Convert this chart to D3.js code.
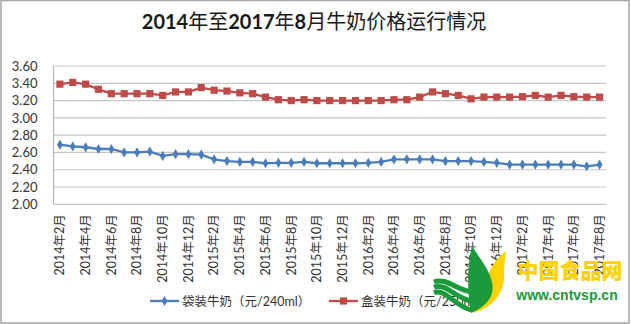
<!DOCTYPE html>
<html><head><meta charset="utf-8">
<script src="https://cdn.jsdelivr.net/npm/d3@7"></script>
<style>
html,body{margin:0;padding:0;background:#fff;}
svg{display:block;}
</style>
</head><body>
<svg id="c" width="631" height="324"></svg>
<script>
const months = [
 "2014年2月","2014年3月","2014年4月","2014年5月","2014年6月","2014年7月","2014年8月","2014年9月","2014年10月","2014年11月","2014年12月",
 "2015年1月","2015年2月","2015年3月","2015年4月","2015年5月","2015年6月","2015年7月","2015年8月","2015年9月","2015年10月","2015年11月","2015年12月",
 "2016年1月","2016年2月","2016年3月","2016年4月","2016年5月","2016年6月","2016年7月","2016年8月","2016年9月","2016年10月","2016年11月","2016年12月",
 "2017年1月","2017年2月","2017年3月","2017年4月","2017年5月","2017年6月","2017年7月","2017年8月"];
const bagged = [2.69,2.67,2.66,2.64,2.64,2.60,2.60,2.61,2.56,2.58,2.58,2.575,2.52,2.50,2.49,2.49,2.475,2.48,2.48,2.49,2.475,
 2.475,2.475,2.475,2.48,2.49,2.52,2.52,2.52,2.52,2.50,2.50,2.50,2.49,2.48,2.46,2.46,2.46,2.46,2.46,2.46,2.44,2.46];
const boxed = [3.39,3.41,3.39,3.33,3.28,3.28,3.28,3.28,3.26,3.30,3.30,3.35,3.32,3.31,3.29,3.28,3.24,3.21,3.20,3.21,3.20,
 3.20,3.20,3.20,3.20,3.20,3.21,3.21,3.24,3.30,3.28,3.26,3.22,3.24,3.24,3.24,3.245,3.26,3.24,3.26,3.245,3.24,3.24];
const yTicks = [2.00,2.20,2.40,2.60,2.80,3.00,3.20,3.40,3.60];
const title = "2014年至2017年8月牛奶价格运行情况";
const seriesNames = ["袋装牛奶（元/240ml）","盒装牛奶（元/250ml）"];
const colors = ["#4A7EBB","#BE4B48"];

const svg = d3.select("#c");
const font = "Lato, 'Noto Sans CJK SC', sans-serif";
const L = 53.5, R = 606, T = 66, B = 204.3;

const x = d3.scaleBand().domain(months).range([L, R]).padding(0);
const y = d3.scaleLinear().domain([2.0, 3.6]).range([B, T]);

// border
svg.append("rect").attr("x",1).attr("y",0.5).attr("width",628).attr("height",322.5)
  .attr("fill","none").attr("stroke","#a6a6a6").attr("stroke-width",1.5);

// title
const tt = svg.append("text").attr("x",314).attr("y",29).attr("text-anchor","middle")
  .attr("font-family",font).attr("font-size",20).attr("fill","#1a1a1a");
title.split(/(\d+)/).filter(s=>s.length).forEach(s=>{
  tt.append("tspan").text(s).attr("font-weight", /\d/.test(s) ? "bold" : "normal");
});

// grid
svg.append("g").selectAll("line").data(yTicks).join("line")
  .attr("x1",L).attr("x2",R).attr("y1",d=>y(d)).attr("y2",d=>y(d))
  .attr("stroke","#c6c6c6").attr("stroke-width",1.2);
svg.append("line").attr("x1",L).attr("x2",L).attr("y1",T).attr("y2",B)
  .attr("stroke","#b8b8b8").attr("stroke-width",1.2);

// y axis labels
const yAxis = d3.axisLeft(y).tickValues(yTicks).tickFormat(d3.format(".2f")).tickSize(0).tickPadding(16);
const gy = svg.append("g").attr("transform",`translate(${L},0)`).call(yAxis);
gy.select(".domain").remove();
gy.selectAll("text").attr("font-family",font).attr("font-size",13).attr("fill","#333");

// x axis labels
const xAxis = d3.axisBottom(x).tickValues(months.filter((d,i)=>i%2===0)).tickSize(0);
const gx = svg.append("g").attr("transform",`translate(0,${B})`).call(xAxis);
gx.select(".domain").remove();
gx.selectAll("text").attr("font-family",font).attr("font-size",12.5).attr("fill","#333")
  .attr("transform","rotate(-90)").attr("text-anchor","end").attr("dy","0.35em")
  .attr("x",-10).attr("y",0);

// lines
const cx = d => x(d) + x.bandwidth()/2;
[bagged, boxed].forEach((vals,k)=>{
  const line = d3.line().x((d,i)=>cx(months[i])).y(d=>y(d));
  svg.append("path").datum(vals).attr("d",line).attr("fill","none")
    .attr("stroke",colors[k]).attr("stroke-width",2.3);
});
const diamond = d3.symbol().type(d3.symbolDiamond).size(30);
svg.append("g").selectAll("path").data(bagged).join("path")
  .attr("d",diamond).attr("transform",(d,i)=>`translate(${cx(months[i])},${y(d)})`)
  .attr("fill",colors[0]);
svg.append("g").selectAll("rect").data(boxed).join("rect")
  .attr("x",(d,i)=>cx(months[i])-3.6).attr("y",d=>y(d)-3.6).attr("width",7.2).attr("height",7.2)
  .attr("fill",colors[1]);

// legend
const lg = [{x:150, name:seriesNames[0]},{x:329, name:seriesNames[1]}];
lg.forEach((it,k)=>{
  const g = svg.append("g");
  g.append("line").attr("x1",it.x).attr("x2",it.x+29).attr("y1",301).attr("y2",301)
    .attr("stroke",colors[k]).attr("stroke-width",2.3);
  if(k===0) g.append("path").attr("d",diamond).attr("transform",`translate(${it.x+14.5},301)`).attr("fill",colors[0]);
  else g.append("rect").attr("x",it.x+14.5-3.6).attr("y",301-3.6).attr("width",7.2).attr("height",7.2).attr("fill",colors[1]);
  g.append("text").attr("x",it.x+32).attr("y",305.5).text(it.name)
    .attr("font-family",font).attr("font-size",12.5).attr("fill","#333");
});

// watermark logo
const wm = svg.append("g");
// green waves
[[0,"#1a9a3a"],[9,"#1a9a3a"],[18,"#1a9a3a"]].forEach(([o,c])=>{
  wm.append("path").attr("d",`M${434},${282+o*0.6} C ${446},${277+o*0.6} ${456},${290+o} ${472},${292+o}`)
    .attr("fill","none").attr("stroke",c).attr("stroke-width",5);
});
wm.append("path").attr("d","M506,251 C 497,258 488,268 486,285 L 473,313 C 492,308 504,294 504,276 C 504,266 505,258 506,251 Z")
  .attr("fill","#FFD200");
wm.append("path").attr("d","M472,246 C 480,260 498,278 491,296 C 487,305 478,310 471,313 C 467,290 467,266 472,246 Z")
  .attr("fill","#1a9a3a");
wm.append("text").attr("x",570).attr("y",278).attr("text-anchor","middle").text("中国食品网")
  .attr("font-family","'Noto Sans CJK SC'").attr("font-weight",900).attr("font-size",21)
  .attr("fill","#FFD200");
wm.append("text").attr("x",567).attr("y",300).attr("text-anchor","middle").text("www.cntvsp.cn")
  .attr("font-family","'Liberation Sans', Arial, sans-serif").attr("font-weight","bold").attr("font-size",14)
  .attr("fill","#1a9a3a");
</script>
</body></html>
